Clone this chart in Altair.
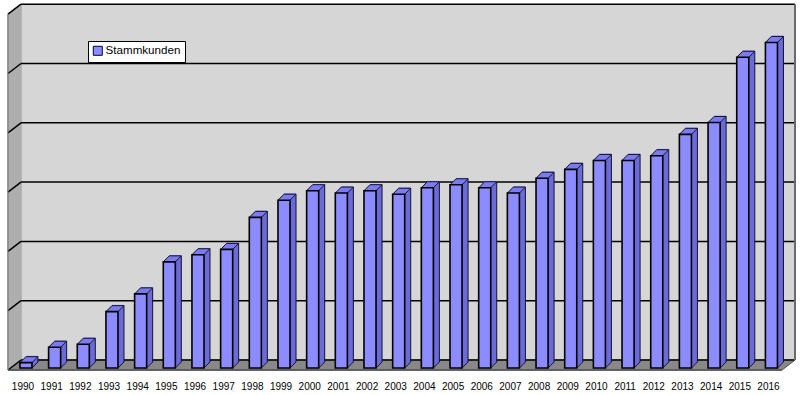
import altair as alt
import pandas as pd

# ---------------- data ----------------
years = list(range(1990, 2017))
stammkunden = [9, 35, 40, 95, 125, 179, 191, 200, 254, 283, 299, 295, 299, 293,
               304, 309, 304, 295, 320, 335, 350, 350, 358, 394, 414, 524, 549]
series_name = "Stammkunden"
grid_values = [0, 100, 200, 300, 400, 500, 600]

# ---------------- layout / style ----------------
W, H, BOTTOM = 800, 376, 19
XD = [1989.2153, 2017.1163]
YD = [-13.49, 620.57]
PXX = W / (XD[1] - XD[0])


def year_at(px):
    return XD[0] + px / PXX


WALL_L, WALL_R = year_at(21), year_at(795)
WALL_TOP = 600
DX, DY = 13, 10      # wall depth in px
BY = -8              # back wall offset vs. bar base
BD = 6               # bar depth in px

FRONT = "#8C8CFF"
SIDE = "#6A6AD8"
TOP = "#7C7CF0"
OUT = "#141430"
BACKWALL = "#D6D6D6"
LEFTWALL = "#ABABAB"
FLOOR = "#808080"

xs = alt.Scale(domain=XD, nice=False, zero=False)
ys = alt.Scale(domain=YD, nice=False, zero=False)
xaxis = alt.Axis(values=years, format="d", title=None, ticks=False, domain=False,
                 grid=False, labelFont="Liberation Sans", labelFontSize=10,
                 labelColor="#000000", labelPadding=5, labelOverlap=False,
                 labelFlush=False)


def X(f):
    return alt.X(f, type="quantitative", scale=xs, axis=xaxis)


def Y(f):
    return alt.Y(f, type="quantitative", scale=ys, axis=None)


frame = pd.DataFrame({"wl": [WALL_L], "wr": [WALL_R], "b": [0], "t": [WALL_TOP]})
grid = pd.DataFrame({"v": grid_values, "wl": WALL_L, "wr": WALL_R})
bars = pd.DataFrame({"Jahr": years, "Stammkunden": stammkunden, "Serie": series_name})

layers = []

# back wall
layers.append(alt.Chart(frame).mark_rect(fill=BACKWALL, yOffset=BY, y2Offset=BY)
              .encode(x=X("wl"), x2="wr", y=Y("b"), y2="t"))
# left wall (swept)
for j in range(DX + 1):
    off = BY + j * DY / DX
    layers.append(alt.Chart(frame).mark_rule(color=LEFTWALL, strokeWidth=1.6, xOffset=-j,
                                             yOffset=off, y2Offset=off)
                  .encode(x=X("wl"), y=Y("b"), y2="t"))
# floor (swept)
for j in range(DY + 1):
    xo = -j * DX / DY
    layers.append(alt.Chart(frame).mark_rule(color=FLOOR, strokeWidth=1.6, xOffset=xo,
                                             x2Offset=xo, yOffset=BY + j)
                  .encode(x=X("wl"), x2="wr", y=Y("b")))
# gridlines on back wall
layers.append(alt.Chart(grid).mark_rule(color="#000000", strokeWidth=1.5, yOffset=BY)
              .encode(x=X("wl"), x2="wr", y=Y("v")))
# gridlines on left wall
layers.append(alt.Chart(grid).mark_rule(color="#000000", strokeWidth=1.5, yOffset=BY,
                                        x2Offset=-DX, y2Offset=BY + DY)
              .encode(x=X("wl"), x2="wl", y=Y("v"), y2="v"))
# wall edges
layers.append(alt.Chart(frame).mark_rule(color="#707070", strokeWidth=1, xOffset=-DX,
                                         yOffset=BY + DY, y2Offset=BY + DY)
              .encode(x=X("wl"), y=Y("b"), y2="t"))
layers.append(alt.Chart(frame).mark_rule(color="#6A6A6A", strokeWidth=2,
                                         yOffset=BY, y2Offset=BY)
              .encode(x=X("wr"), y=Y("b"), y2="t"))
layers.append(alt.Chart(frame).mark_rule(color="#505050", strokeWidth=1, yOffset=BY,
                                         x2Offset=-DX, y2Offset=BY + DY)
              .encode(x=X("wr"), x2="wr", y=Y("b"), y2="b"))
layers.append(alt.Chart(frame).mark_rule(color="#505050", strokeWidth=1.5, xOffset=-DX,
                                         x2Offset=-DX, yOffset=BY + DY)
              .encode(x=X("wl"), x2="wr", y=Y("b")))


def bar_chart():
    return alt.Chart(bars).transform_calculate(
        x0="datum.Jahr - 0.09", x1="datum.Jahr + 0.33", base="0")


# side faces (swept)
for k in range(1, BD + 1):
    layers.append(bar_chart().mark_rect(fill=SIDE, xOffset=k, x2Offset=k,
                                        yOffset=-k, y2Offset=-k)
                  .encode(x=X("x0:Q"), x2="x1:Q", y=Y("Stammkunden"), y2="base:Q"))
# top faces (swept)
for k in range(0, BD + 1):
    layers.append(bar_chart().mark_rule(color=TOP, strokeWidth=1.6, xOffset=k,
                                        x2Offset=k, yOffset=-k)
                  .encode(x=X("x0:Q"), x2="x1:Q", y=Y("Stammkunden")))
# outlines of 3D parts
layers.append(bar_chart().mark_rule(color=OUT, strokeWidth=1, xOffset=BD, x2Offset=BD,
                                    yOffset=-BD)
              .encode(x=X("x0:Q"), x2="x1:Q", y=Y("Stammkunden")))
layers.append(bar_chart().mark_rule(color=OUT, strokeWidth=1, xOffset=BD,
                                    yOffset=-BD, y2Offset=-BD)
              .encode(x=X("x1:Q"), y=Y("Stammkunden"), y2="base:Q"))
for fx, fy in (("x0:Q", "Stammkunden"), ("x1:Q", "Stammkunden"), ("x1:Q", "base:Q")):
    layers.append(bar_chart().mark_rule(color=OUT, strokeWidth=1, x2Offset=BD,
                                        y2Offset=-BD)
                  .encode(x=X(fx), x2=fx.split(":")[0], y=Y(fy), y2=fy.split(":")[0]))
# front faces
layers.append(bar_chart().mark_rect(stroke="#000000", strokeWidth=1.6)
              .encode(x=X("x0:Q"), x2="x1:Q", y=Y("Stammkunden"), y2="base:Q",
                      color=alt.Color("Serie:N", scale=alt.Scale(range=[FRONT]),
                                      legend=alt.Legend(orient="none", legendX=88, legendY=41,
                                                        title=None, fillColor="white",
                                                        strokeColor="black", padding=4,
                                                        symbolType="square", symbolSize=81,
                                                        symbolStrokeColor="#000040",
                                                        symbolStrokeWidth=1,
                                                        labelFont="Liberation Sans",
                                                        labelFontSize=11.6, labelColor="black",
                                                        labelOffset=2, cornerRadius=0))))

chart = alt.layer(*layers).properties(
    width=W, height=H,
    padding={"left": 0, "top": 0, "right": 0, "bottom": BOTTOM},
    autosize=alt.AutoSizeParams(type="none"),
).configure_view(stroke=None)

chart.save("out.html", embed_options={"renderer": "svg", "actions": False})
